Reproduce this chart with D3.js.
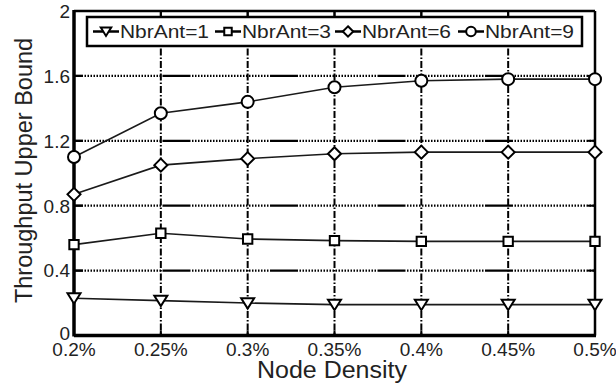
<!DOCTYPE html>
<html>
<head>
<meta charset="utf-8">
<script src="https://cdn.jsdelivr.net/npm/d3@7"></script>
<style>
  html, body { margin: 0; padding: 0; background: #fff; }
  svg { display: block; font-family: "Liberation Sans", Arial, sans-serif; }
</style>
</head>
<body>
<svg id="chart" width="616" height="383"></svg>
<script>
// Node density categories (x axis)
const densities = ["0.2%", "0.25%", "0.3%", "0.35%", "0.4%", "0.45%", "0.5%"];

// Throughput upper bound per number of antennas
const ant1 = [0.23, 0.215, 0.20, 0.19, 0.19, 0.19, 0.19];
const ant3 = [0.56, 0.63, 0.595, 0.585, 0.58, 0.58, 0.58];
const ant6 = [0.87, 1.05, 1.09, 1.12, 1.13, 1.13, 1.13];
const ant9 = [1.10, 1.37, 1.44, 1.53, 1.57, 1.58, 1.58];

const seriesNames = ["NbrAnt=1", "NbrAnt=3", "NbrAnt=6", "NbrAnt=9"];
const seriesMarkers = ["triangleDown", "square", "diamond", "circle"];

const yTicks = [0, 0.4, 0.8, 1.2, 1.6, 2];
const yTickLabels = ["0", "0.4", "0.8", "1.2", "1.6", "2"];

const xTitle = "Node Density";
const yTitle = "Throughput Upper Bound";

const series = [ant1, ant3, ant6, ant9].map((vals, i) => ({
  name: seriesNames[i],
  marker: seriesMarkers[i],
  values: vals.map((v, j) => ({ cat: densities[j], v }))
}));

const svg = d3.select("#chart");
const L = 74, R = 595, T = 11, B = 335.5;

const x = d3.scalePoint().domain(densities).range([L, R]).padding(0);
const y = d3.scaleLinear().domain([0, 2]).range([B, T]);

// Dotted horizontal grid with a periodic long dash (even-length pattern)
const hDash = (() => {
  const a = [28, 1.5];
  for (let i = 0; i < 26; i++) a.push(1.5, 1.5);
  return a.join(",");
})();

const grid = svg.append("g");
grid.selectAll("line.h")
  .data(yTicks.filter(t => t > 0 && t < 2))
  .join("line")
  .attr("x1", L).attr("x2", R)
  .attr("y1", d => y(d)).attr("y2", d => y(d))
  .attr("stroke", "#000").attr("stroke-width", 2.2)
  .attr("stroke-dasharray", hDash)
  .attr("stroke-dashoffset", 19);

grid.selectAll("line.v")
  .data(densities.slice(1, -1))
  .join("line")
  .attr("x1", d => x(d)).attr("x2", d => x(d))
  .attr("y1", T).attr("y2", B)
  .attr("stroke", "#000").attr("stroke-width", 2)
  .attr("stroke-dasharray", "7,2,1.5,2");

// Inward tick marks on all four sides
const ticks = svg.append("g").attr("stroke", "#000").attr("stroke-width", 2);
densities.forEach(d => {
  ticks.append("line").attr("x1", x(d)).attr("x2", x(d)).attr("y1", T).attr("y2", T + 7);
  ticks.append("line").attr("x1", x(d)).attr("x2", x(d)).attr("y1", B).attr("y2", B - 5);
});
yTicks.forEach(t => {
  ticks.append("line").attr("x1", L).attr("x2", L + 9).attr("y1", y(t)).attr("y2", y(t));
  ticks.append("line").attr("x1", R).attr("x2", R - 7).attr("y1", y(t)).attr("y2", y(t));
});

// Frame
svg.append("line").attr("x1", L).attr("x2", R).attr("y1", T).attr("y2", T).attr("stroke", "#000").attr("stroke-width", 2.5);
svg.append("line").attr("x1", R).attr("x2", R).attr("y1", T).attr("y2", B).attr("stroke", "#000").attr("stroke-width", 2.5);
svg.append("line").attr("x1", L).attr("x2", R + 1).attr("y1", B).attr("y2", B).attr("stroke", "#000").attr("stroke-width", 3.5);
svg.append("line").attr("x1", L).attr("x2", L).attr("y1", T - 1).attr("y2", B + 1).attr("stroke", "#000").attr("stroke-width", 3.5);

// Marker shapes
const markerPath = {
  triangleDown: s => `M${-s},${-s * 0.75}L${s},${-s * 0.75}L0,${s * 0.85}Z`,
  square: s => `M${-s * 0.85},${-s * 0.85}h${s * 1.7}v${s * 1.7}h${-s * 1.7}Z`,
  diamond: s => `M0,${-s}L${s},0L0,${s}L${-s},0Z`,
  circle: s => `M${-s},0A${s},${s} 0 1,0 ${s},0A${s},${s} 0 1,0 ${-s},0Z`
};
const markerSize = { triangleDown: 6.5, square: 5.5, diamond: 6.5, circle: 6 };

const line = d3.line().x(d => x(d.cat)).y(d => y(d.v));

const plot = svg.append("g");
series.forEach(s => {
  plot.append("path")
    .attr("d", line(s.values))
    .attr("fill", "none").attr("stroke", "#1a1a1a").attr("stroke-width", 1.6);
});
series.forEach(s => {
  plot.selectAll(null)
    .data(s.values)
    .join("path")
    .attr("transform", d => `translate(${x(d.cat)},${y(d.v)})`)
    .attr("d", markerPath[s.marker](markerSize[s.marker]))
    .attr("fill", "#fff").attr("stroke", "#000").attr("stroke-width", 2);
});

// Tick labels
svg.append("g").selectAll("text")
  .data(yTicks)
  .join("text")
  .attr("x", 70).attr("y", d => y(d) - (d === 0 ? 2 : 0))
  .attr("dy", "0.36em")
  .attr("text-anchor", "end")
  .attr("font-size", 19)
  .attr("fill", "#222")
  .text((d, i) => yTickLabels[i]);

svg.append("g").selectAll("text")
  .data(densities)
  .join("text")
  .attr("x", d => x(d)).attr("y", 355.5)
  .attr("text-anchor", "middle")
  .attr("font-size", 19)
  .attr("fill", "#222")
  .text(d => d);

// Axis titles
svg.append("text")
  .attr("x", 332).attr("y", 377.5)
  .attr("text-anchor", "middle")
  .attr("font-size", 23.5)
  .attr("textLength", 150).attr("lengthAdjust", "spacingAndGlyphs")
  .attr("fill", "#222")
  .text(xTitle);

svg.append("text")
  .attr("transform", "translate(32,170.5) rotate(-90)")
  .attr("text-anchor", "middle")
  .attr("font-size", 23.5)
  .attr("fill", "#222")
  .text(yTitle);

// Legend
const leg = svg.append("g");
leg.append("rect")
  .attr("x", 87).attr("y", 17).attr("width", 495).attr("height", 29)
  .attr("fill", "#fff").attr("stroke", "#000").attr("stroke-width", 2.5);

const legStart = [93, 215, 335, 458];
series.forEach((s, i) => {
  const x0 = legStart[i];
  const cy = 31.5;
  leg.append("line").attr("x1", x0).attr("x2", x0 + 26).attr("y1", cy).attr("y2", cy)
    .attr("stroke", "#000").attr("stroke-width", 2.5);
  leg.append("path")
    .attr("transform", `translate(${x0 + 13},${cy})`)
    .attr("d", markerPath[s.marker](markerSize[s.marker] * 0.8))
    .attr("fill", "#fff").attr("stroke", "#000").attr("stroke-width", 2);
  leg.append("text")
    .attr("x", x0 + 27).attr("y", cy).attr("dy", "0.36em")
    .attr("font-size", 17.5)
    .attr("textLength", 89).attr("lengthAdjust", "spacingAndGlyphs")
    .attr("fill", "#222")
    .text(s.name);
});
</script>
</body>
</html>
